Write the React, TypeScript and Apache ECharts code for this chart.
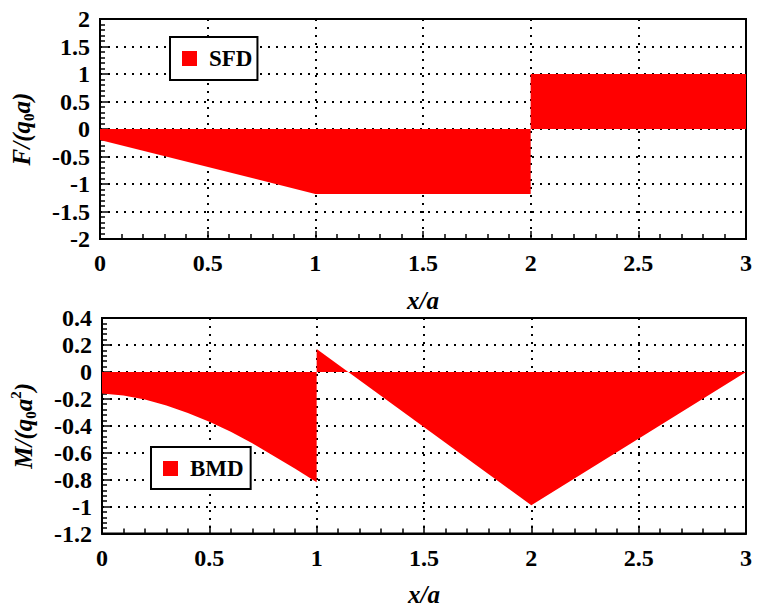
import React, { useEffect, useRef } from "react";
import * as echarts from "echarts";

// Shear force diagram F/(q0 a) vs x/a
const sfdX = [0, 1, 2, 2, 3];
const sfdY = [-0.2, -1.18, -1.18, 1.0, 1.0];

// Bending moment diagram M/(q0 a^2) vs x/a
const bmdX = [0, 0.1, 0.2, 0.3, 0.4, 0.5, 0.6, 0.7, 0.8, 0.9, 1.0, 1.0, 2.0, 3.0];
const bmdY = [-0.16, -0.175, -0.205, -0.25, -0.305, -0.37, -0.445, -0.53, -0.625, -0.72, -0.82, 0.17, -0.99, 0.0];

const xTicks = { min: 0, max: 3, interval: 0.5 };
const fTicks = { min: -2, max: 2, interval: 0.5 };
const mTicks = { min: -1.2, max: 0.4, interval: 0.2 };

const FONT = "'Liberation Serif', 'Times New Roman', serif";

export default function App() {
  const ref = useRef<HTMLDivElement>(null);
  useEffect(() => {
    if (!ref.current) return;
    const chart = echarts.init(ref.current, undefined, { renderer: "svg" });
    const axisCommon = (range: any) => ({
      type: "value",
      min: range.min,
      max: range.max,
      interval: range.interval,
      axisLine: { show: true, onZero: false, lineStyle: { color: "#000", width: 2 } },
      axisTick: { show: true, inside: true, length: 8, lineStyle: { color: "#000", width: 1.5 } },
      minorTick: { show: true, splitNumber: 5, length: 5, lineStyle: { color: "#000", width: 1.5 } },
      splitLine: { show: true, lineStyle: { color: "#000", width: 2, type: [2, 6] } },
      axisLabel: {
        color: "#000",
        fontFamily: FONT,
        fontWeight: "bold",
        fontSize: 24,
      },
    });
    const nameRich = {
      i: { fontFamily: FONT, fontWeight: "bold", fontStyle: "italic", fontSize: 25, lineHeight: 30, color: "#000" },
      sub: { fontFamily: FONT, fontWeight: "bold", fontSize: 15, lineHeight: 14, verticalAlign: "bottom", color: "#000" },
      sup: { fontFamily: FONT, fontWeight: "bold", fontSize: 15, lineHeight: 14, verticalAlign: "top", color: "#000" },
    };
    const legendCommon = {
      orient: "horizontal",
      borderColor: "#000",
      borderWidth: 2,
      backgroundColor: "#fff",
      itemWidth: 15,
      itemHeight: 15,
      icon: "rect",
      textStyle: {
        fontFamily: FONT,
        fontWeight: "bold",
        fontSize: 23,
        lineHeight: 20,
        color: "#000",
        padding: [0, 0, 0, 7],
      },
    };
    chart.setOption({
      animation: false,
      backgroundColor: "#fff",
      grid: [
        { left: 100, top: 19, width: 646, height: 220, show: true, borderColor: "#000", borderWidth: 2, backgroundColor: "transparent" },
        { left: 100, top: 318, width: 646, height: 221, show: true, borderColor: "#000", borderWidth: 2, backgroundColor: "transparent" },
      ],
      legend: [
        { ...legendCommon, data: ["SFD"], left: 170, top: 37, padding: [10, 5, 10, 12] },
        { ...legendCommon, data: ["BMD"], left: 151, top: 447, padding: [10, 7, 9, 12] },
      ],
      xAxis: [0, 1].map((g) => ({
        ...axisCommon(xTicks),
        gridIndex: g,
        axisLabel: { ...axisCommon(xTicks).axisLabel, margin: 12 },
        name: "{i|x/a}",
        nameLocation: "middle",
        nameGap: 46,
        nameTextStyle: { rich: nameRich },
      })),
      yAxis: [
        {
          ...axisCommon(fTicks),
          gridIndex: 0,
          axisLabel: { ...axisCommon(fTicks).axisLabel, margin: 10 },
          name: "{i|F/(q}{sub|0}{i|a)}",
          nameLocation: "middle",
          nameGap: 64,
          nameTextStyle: { rich: nameRich },
        },
        {
          ...axisCommon(mTicks),
          gridIndex: 1,
          axisLabel: { ...axisCommon(mTicks).axisLabel, margin: 10 },
          name: "{i|M/(q}{sub|0}{i|a}{sup|2}{i|)}",
          nameLocation: "middle",
          nameGap: 64,
          nameTextStyle: { rich: nameRich },
        },
      ],
      series: [
        {
          name: "SFD",
          type: "line",
          xAxisIndex: 0,
          yAxisIndex: 0,
          symbol: "none",
          color: "#ff0000",
          lineStyle: { width: 0, color: "#ff0000" },
          areaStyle: { color: "#ff0000", opacity: 1 },
          data: sfdX.map((x, i) => [x, sfdY[i]]),
        },
        {
          name: "BMD",
          type: "line",
          xAxisIndex: 1,
          yAxisIndex: 1,
          symbol: "none",
          color: "#ff0000",
          lineStyle: { width: 0, color: "#ff0000" },
          areaStyle: { color: "#ff0000", opacity: 1 },
          data: bmdX.map((x, i) => [x, bmdY[i]]),
        },
      ],
    });
    return () => chart.dispose();
  }, []);
  return (
    <div
      ref={ref}
      style={{ position: "fixed", left: 0, top: 0, width: 757, height: 608 }}
    />
  );
}
